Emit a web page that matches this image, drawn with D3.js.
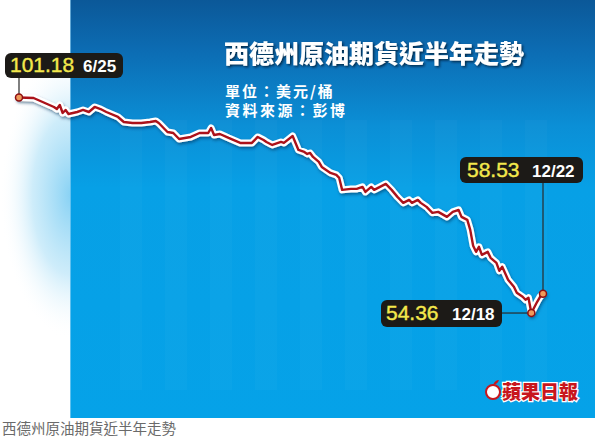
<!DOCTYPE html>
<html><head><meta charset="utf-8">
<script src="https://cdn.jsdelivr.net/npm/d3@7"></script>
<style>html,body{margin:0;padding:0;background:#fff;overflow:hidden}</style>
</head><body>
<script>
// ---- data ----
const dates = ["2014-06-25","2014-06-30","2014-07-07","2014-07-08","2014-07-09","2014-07-10","2014-07-11","2014-07-12","2014-07-15","2014-07-17","2014-07-19","2014-07-21","2014-07-23","2014-07-25","2014-07-29","2014-07-31","2014-08-03","2014-08-06","2014-08-09","2014-08-11","2014-08-12","2014-08-15","2014-08-17","2014-08-19","2014-08-23","2014-08-26","2014-08-29","2014-08-30","2014-08-31","2014-09-02","2014-09-05","2014-09-09","2014-09-11","2014-09-13","2014-09-15","2014-09-17","2014-09-18","2014-09-20","2014-09-23","2014-09-24","2014-09-27","2014-09-29","2014-10-01","2014-10-02","2014-10-03","2014-10-04","2014-10-06","2014-10-07","2014-10-10","2014-10-12","2014-10-13","2014-10-14","2014-10-17","2014-10-19","2014-10-21","2014-10-22","2014-10-24","2014-10-25","2014-10-29","2014-10-31","2014-11-02","2014-11-04","2014-11-06","2014-11-07","2014-11-09","2014-11-10","2014-11-12","2014-11-14","2014-11-16","2014-11-19","2014-11-21","2014-11-23","2014-11-24","2014-11-26","2014-11-27","2014-11-28","2014-11-29","2014-11-30","2014-12-01","2014-12-03","2014-12-04","2014-12-06","2014-12-07","2014-12-08","2014-12-10","2014-12-12","2014-12-13","2014-12-15","2014-12-16","2014-12-17","2014-12-18","2014-12-20","2014-12-21","2014-12-22"];
const prices = [101.18,101.07,99.12,98.68,99.55,97.82,98.47,97.60,98.03,98.47,98.03,99.12,98.68,98.03,96.95,95.86,95.64,95.64,95.86,96.08,95.64,93.69,93.47,92.17,92.61,93.47,93.47,94.56,93.04,93.25,92.39,91.31,91.31,91.31,92.61,91.96,91.52,90.87,91.52,91.31,92.82,89.79,89.35,88.92,89.13,88.27,87.18,86.10,84.80,84.36,83.71,81.11,81.32,81.32,81.76,80.67,81.76,81.11,82.41,81.11,79.59,78.29,78.94,78.29,78.94,78.29,77.42,76.12,76.34,75.25,76.34,76.77,75.25,74.60,72.43,68.96,67.65,68.74,67.00,67.65,66.35,65.26,63.53,64.40,61.58,60.06,58.76,57.89,57.24,57.67,54.36,56.80,57.89,58.53];
const calloutDates = ["2014-06-25","2014-12-22","2014-12-18"];
const calloutValues = ["101.18","58.53","54.36"];
const calloutLabels = ["6/25","12/22","12/18"];
const titleText = "西德州原油期貨近半年走勢";
const unitText = "單位：美元/桶";
const sourceText = "資料來源：彭博";
const logoText = "蘋果日報";
const captionText = "西德州原油期貨近半年走勢";

const W = 600, H = 438;
const parse = d3.timeParse("%Y-%m-%d");
const data = dates.map((d,i)=>({date:parse(d), value:prices[i]}));

const x = d3.scaleTime().domain([parse("2014-06-25"), parse("2014-12-22")]).range([19, 543]);
const y = d3.scaleLinear().domain([50, 110]).range([333.1, 56.9]);

const svg = d3.select("body").append("svg").attr("width", W).attr("height", H)
  .style("display","block");
const defs = svg.append("defs");

const bg = defs.append("linearGradient").attr("id","bg").attr("x1",0).attr("y1",0).attr("x2",0).attr("y2",1);
[[0,"#0b5898"],[0.12,"#0c6cb3"],[0.3,"#0b8fd6"],[0.45,"#07a0e6"],[1,"#05a2e8"]]
  .forEach(([o,c])=>bg.append("stop").attr("offset",o).attr("stop-color",c));

const glow = defs.append("radialGradient").attr("id","glow")
  .attr("gradientUnits","userSpaceOnUse").attr("cx",72).attr("cy",195).attr("r",1)
  .attr("gradientTransform","translate(72,195) scale(72,145) translate(-72,-195)");
glow.append("stop").attr("offset",0).attr("stop-color","#86d1f4").attr("stop-opacity",1);
glow.append("stop").attr("offset",0.55).attr("stop-color","#c2e8f9").attr("stop-opacity",0.8);
glow.append("stop").attr("offset",1).attr("stop-color","#ffffff").attr("stop-opacity",0);

const sh = defs.append("filter").attr("id","sh").attr("x","-10%").attr("y","-10%").attr("width","130%").attr("height","140%");
sh.append("feDropShadow").attr("dx",1).attr("dy",2).attr("stdDeviation",1.5).attr("flood-color","#00305a").attr("flood-opacity",0.55);
const tsh = defs.append("filter").attr("id","tsh").attr("x","-10%").attr("y","-20%").attr("width","130%").attr("height","160%");
tsh.append("feDropShadow").attr("dx",1.5).attr("dy",1.5).attr("stdDeviation",1).attr("flood-color","#001a33").attr("flood-opacity",0.8);

defs.append("clipPath").attr("id","leftclip").append("rect").attr("x",0).attr("y",0).attr("width",70).attr("height",H);

// left glow
svg.append("rect").attr("x",0).attr("y",40).attr("width",70).attr("height",320)
  .attr("fill","url(#glow)").attr("clip-path","url(#leftclip)");

// blue panel
svg.append("rect").attr("x",70).attr("y",0).attr("width",525).attr("height",418).attr("fill","url(#bg)");
// subtle vertical bands
const bands = [120,165,210,255,300,345,390,435,480,525];
svg.append("g").selectAll("rect").data(bands).join("rect")
  .attr("x",d=>d).attr("y",120).attr("width",22).attr("height",270)
  .attr("fill","#ffffff").attr("opacity",0.025);
svg.append("line").attr("x1",70.5).attr("x2",70.5).attr("y1",0).attr("y2",418)
  .attr("stroke","#9ad6f5").attr("stroke-width",1).attr("opacity",0.6);

// title
svg.append("text").attr("x",224).attr("y",63).text(titleText)
  .attr("font-family","'Noto Sans CJK TC','Noto Sans CJK SC',sans-serif").attr("font-weight",900)
  .attr("font-size",25).attr("fill","#ffffff").attr("filter","url(#tsh)");
svg.append("text").attr("x",225).attr("y",97).text(unitText)
  .attr("font-family","'Noto Sans CJK TC',sans-serif").attr("font-weight",700)
  .attr("font-size",15).attr("letter-spacing",2).attr("fill","#ffffff");
svg.append("text").attr("x",225).attr("y",116).text(sourceText)
  .attr("font-family","'Noto Sans CJK TC',sans-serif").attr("font-weight",700)
  .attr("font-size",15).attr("letter-spacing",2.5).attr("fill","#ffffff");

// line
const line = d3.line().x(d=>x(d.date)).y(d=>y(d.value)).curve(d3.curveLinear);
svg.append("path").datum(data).attr("d",line).attr("fill","none")
  .attr("stroke","#ffffff").attr("stroke-width",7).attr("stroke-linejoin","round").attr("stroke-linecap","round")
  .attr("filter","url(#sh)");
svg.append("path").datum(data).attr("d",line).attr("fill","none")
  .attr("stroke","#ab121a").attr("stroke-width",2.4).attr("stroke-linejoin","round").attr("stroke-linecap","round");

// callouts
const pts = calloutDates.map((d,i)=>({date:parse(d), value:+calloutValues[i], v:calloutValues[i], lab:calloutLabels[i]}));
const boxes = [
  {bx:5, by:53, bw:118, bh:25, vx:10, lx:83, base:72, conn:"v"},
  {bx:460, by:157, bw:123, bh:26, vx:467, lx:532, base:177, conn:"v"},
  {bx:381, by:300, bw:121, bh:27, vx:386, lx:452, base:320, conn:"h"}
];
const cg = svg.append("g");
pts.forEach((p,i)=>{
  const b = boxes[i], px = x(p.date), py = y(p.value);
  if (b.conn==="v") {
    cg.append("line").attr("x1",px).attr("x2",px).attr("y1",b.by+b.bh).attr("y2",py)
      .attr("stroke","#2a2a2a").attr("stroke-width",1.2);
  } else {
    cg.append("line").attr("x1",b.bx+b.bw).attr("x2",px).attr("y1",py).attr("y2",py)
      .attr("stroke","#2a2a2a").attr("stroke-width",1.2);
  }
  cg.append("rect").attr("x",b.bx).attr("y",b.by).attr("width",b.bw).attr("height",b.bh).attr("rx",6)
    .attr("fill","#1c1a17");
  cg.append("text").attr("x",b.vx).attr("y",b.base).text(p.v)
    .attr("font-family","'Liberation Sans',Arial,sans-serif").attr("font-size",21)
    .attr("stroke","#f3e84c").attr("stroke-width",0.4)
    .attr("fill","#f3e84c");
  cg.append("text").attr("x",b.lx).attr("y",b.base).text(p.lab)
    .attr("font-family","'Liberation Sans',Arial,sans-serif").attr("font-weight",700).attr("font-size",17)
    .attr("fill","#ffffff");
  cg.append("circle").attr("cx",px).attr("cy",py).attr("r",3.5)
    .attr("fill","#ef9a5a").attr("stroke","#8e0f12").attr("stroke-width",1.5);
});

// logo
const lg = svg.append("g");
lg.append("circle").attr("cx",493).attr("cy",392).attr("r",7)
  .attr("fill","#ffffff").attr("stroke","#c8161d").attr("stroke-width",2);
lg.append("path").attr("d","M493,385 q2,-5 6,-5 q-1,4 -6,5 z").attr("fill","#c8161d");
lg.append("text").attr("x",502).attr("y",399).text(logoText)
  .attr("font-family","'Noto Sans CJK TC',sans-serif").attr("font-weight",900).attr("font-size",19)
  .attr("fill","#c8161d").attr("stroke","#ffffff").attr("stroke-width",2.5).attr("paint-order","stroke");

// caption below
svg.append("text").attr("x",2).attr("y",434).text(captionText)
  .attr("font-family","'Noto Sans CJK TC',sans-serif").attr("font-size",14.5).attr("fill","#6a6a6a");
</script>
</body></html>
